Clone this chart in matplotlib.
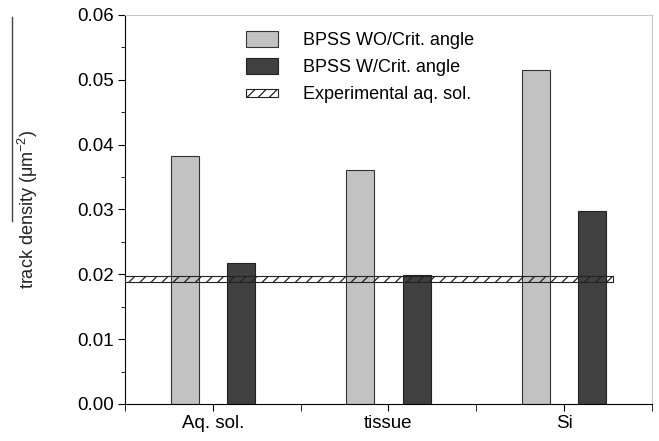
import matplotlib
matplotlib.use('Agg')
import matplotlib.pyplot as plt
import numpy as np
from matplotlib.lines import Line2D
from matplotlib.patches import Patch, Rectangle
from matplotlib.legend_handler import HandlerPatch
from matplotlib.ticker import MultipleLocator, FixedLocator, FormatStrFormatter

plt.rcParams['font.family'] = ['Liberation Sans', 'DejaVu Sans']
plt.rcParams['hatch.linewidth'] = 0.9

categories = ['Aq. sol.', 'tissue', 'Si']
wo_crit = [0.0383, 0.0361, 0.0515]
w_crit = [0.0217, 0.0199, 0.0298]
exp_low = 0.0188
exp_high = 0.0197


def thin_patch(legend, orig_handle, xdescent, ydescent, width, height, fontsize):
    # the hatched legend key is drawn flatter than the others
    h = height * 0.5
    return Rectangle((-xdescent, -ydescent + (height - h) / 2), width, h)


fig = plt.figure(figsize=(6.59, 4.41), dpi=100)
ax = fig.add_axes([0.19, 0.084, 0.799, 0.882])

x = np.arange(1, len(categories) + 1)
bw = 0.16
ax.bar(x - bw, wo_crit, width=bw, color='#c2c2c2', edgecolor='#333333', linewidth=0.8, zorder=2)
ax.bar(x + bw, w_crit, width=bw, color='#404040', edgecolor='#222222', linewidth=0.8, zorder=2)
ax.fill_between([0.5, 3.28], exp_low, exp_high, facecolor='none', edgecolor='#222222',
                hatch='///', linewidth=0.8, zorder=3)

ax.set_xlim(0.5, 3.5)
ax.set_ylim(0, 0.06)
ax.xaxis.set_major_locator(FixedLocator(x))
ax.set_xticklabels(categories, fontsize=13.5)
ax.xaxis.set_minor_locator(FixedLocator([0.5, 1.5, 2.5, 3.5]))
ax.yaxis.set_major_locator(MultipleLocator(0.01))
ax.yaxis.set_minor_locator(MultipleLocator(0.005))
ax.yaxis.set_major_formatter(FormatStrFormatter('%.2f'))
ax.tick_params(axis='y', which='major', direction='out', length=5, labelsize=13.5, pad=3)
ax.tick_params(axis='y', which='minor', direction='out', length=3)
ax.tick_params(axis='x', which='major', direction='out', length=5, pad=3)
ax.tick_params(axis='x', which='minor', direction='out', length=5)

for s in ['top', 'right']:
    ax.spines[s].set_color('#c8c8c8')
for s in ['left', 'bottom']:
    ax.spines[s].set_color('black')

ax.set_ylabel(r'track density ($\mathregular{\mu m^{-2}}$)', fontsize=13, color='#222222', labelpad=27)

handles = [
    Patch(facecolor='#c2c2c2', edgecolor='#333333', linewidth=0.8),
    Patch(facecolor='#404040', edgecolor='#222222', linewidth=0.8),
    Patch(facecolor='white', edgecolor='#222222', hatch='///', linewidth=0.8),
]
labels = ['BPSS WO/Crit. angle', 'BPSS W/Crit. angle', 'Experimental aq. sol.']
ax.legend(handles, labels, loc='upper left', bbox_to_anchor=(0.198, 1.0), frameon=False,
          fontsize=13, handlelength=1.8, handleheight=0.95, labelspacing=0.5, handletextpad=1.35,
          handler_map={handles[2]: HandlerPatch(patch_func=thin_patch)})

# overline next to the axis title
fig.add_artist(Line2D([12 / 659, 12 / 659], [1 - 17 / 441, 1 - 221 / 441],
                      color='#444444', linewidth=1))

fig.savefig('out.png', dpi=100)
